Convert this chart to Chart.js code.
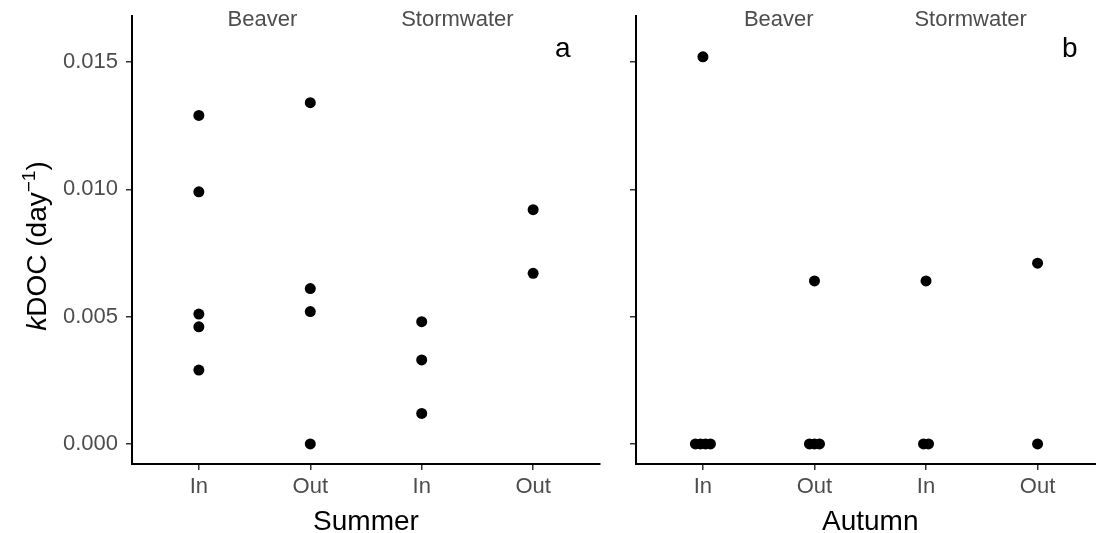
<!DOCTYPE html>
<html>
<head>
<meta charset="utf-8">
<script src="https://cdn.jsdelivr.net/npm/chart.js@4"></script>
<style>
  html, body { margin: 0; padding: 0; background: #ffffff; overflow: hidden; }
  #wrap { position: relative; width: 1096px; height: 533px; overflow: hidden; }
  canvas { position: absolute; top: 0; }
</style>
</head>
<body>
<div id="wrap">
<canvas id="panelA" width="610" height="533" style="left:0px"></canvas>
<canvas id="panelB" width="500" height="533" style="left:610px"></canvas>
</div>
<script>
// ---------------- data ----------------
const categories = ['In', 'Out', 'In', 'Out'];
const groupLabels = ['Beaver', 'Stormwater'];
const seasons = ['Summer', 'Autumn'];
const panelTags = ['a', 'b'];
const yTickValues = [0, 0.005, 0.010, 0.015];

// Summer (panel a)
const summerBeaverIn  = [0.0129, 0.0099, 0.0051, 0.0046, 0.0029];
const summerBeaverOut = [0.0134, 0.0061, 0.0052, 0.0];
const summerStormIn   = [0.0048, 0.0033, 0.0012];
const summerStormOut  = [0.0092, 0.0067];

// Autumn (panel b)
const autumnBeaverIn  = [0.0152, 0, 0, 0, 0];
const autumnBeaverOut = [0.0064, 0, 0, 0];
const autumnStormIn   = [0.0064, 0, 0];
const autumnStormOut  = [0.0071, 0];

// ---------------- helpers ----------------
const FAMILY = "'Liberation Sans', Arial, Helvetica, sans-serif";
const TIE_SPREAD = 0.045; // horizontal spread between tied values (category units)

function buildPoints(groups) {
  const pts = [];
  groups.forEach((vals, i) => {
    const counts = {};
    vals.forEach(v => { counts[v] = (counts[v] || 0) + 1; });
    const seen = {};
    vals.forEach(v => {
      const n = counts[v];
      const k = seen[v] || 0;
      seen[v] = k + 1;
      pts.push({ x: i + 1 + (k - (n - 1) / 2) * TIE_SPREAD, y: v });
    });
  });
  return pts;
}

const textPlugin = {
  id: 'panelText',
  afterDraw(chart, args, o) {
    const ctx = chart.ctx;
    const xs = chart.scales.x, ys = chart.scales.y;
    ctx.save();
    // strip-like group labels
    ctx.fillStyle = '#4D4D4D';
    ctx.font = '22px ' + FAMILY;
    ctx.textAlign = 'center';
    ctx.textBaseline = 'middle';
    o.strips.forEach((s, i) => {
      ctx.fillText(groupLabels[i], xs.getPixelForValue(s), ys.getPixelForValue(o.stripY));
    });
    // panel tag
    ctx.fillStyle = '#000';
    ctx.font = '28px ' + FAMILY;
    ctx.fillText(o.tag, xs.getPixelForValue(o.tagX), ys.getPixelForValue(o.tagY));
    // x title
    ctx.textBaseline = 'alphabetic';
    ctx.fillText(o.title, xs.getPixelForValue(2.5), 530);
    // y title
    if (o.yTitle) {
      ctx.translate(46, 246);
      ctx.rotate(-Math.PI / 2);
      const parts = [
        { t: 'k', f: 'italic 28px ' + FAMILY, dy: 0 },
        { t: 'DOC (day', f: '28px ' + FAMILY, dy: 0 },
        { t: '\u22121', f: '19px ' + FAMILY, dy: -11 },
        { t: ')', f: '28px ' + FAMILY, dy: 0 }
      ];
      let total = 0;
      parts.forEach(p => { ctx.font = p.f; p.w = ctx.measureText(p.t).width; total += p.w; });
      let x = -total / 2;
      ctx.textAlign = 'left';
      parts.forEach(p => { ctx.font = p.f; ctx.fillText(p.t, x, p.dy); x += p.w; });
    }
    ctx.restore();
  }
};

function makePanel(id, groups, cfg) {
  const axisCommon = {
    grid: { drawOnChartArea: false, drawTicks: true, tickLength: 6, color: '#333333', lineWidth: 1.5 },
    border: { display: true, color: '#000000', width: 2 }
  };
  return new Chart(document.getElementById(id), {
    type: 'scatter',
    data: {
      datasets: [{
        data: buildPoints(groups),
        pointRadius: 5.5,
        pointHoverRadius: 5.5,
        backgroundColor: '#000000',
        borderWidth: 0
      }]
    },
    options: {
      responsive: false,
      animation: false,
      devicePixelRatio: 1,
      events: [],
      layout: { padding: { left: 0, top: 16, right: cfg.padRight, bottom: 0 } },
      plugins: {
        legend: { display: false },
        tooltip: { enabled: false },
        panelText: cfg.text
      },
      scales: {
        x: Object.assign({
          type: 'linear',
          min: 0.4,
          max: cfg.xMax,
          afterBuildTicks: s => { s.ticks = [1, 2, 3, 4].map(v => ({ value: v })); },
          afterFit: s => { s.height = 69; s.paddingLeft = 0; s.paddingRight = 0; },
          ticks: {
            callback: v => categories[Math.round(v) - 1],
            color: '#4D4D4D',
            font: { family: FAMILY, size: 22 },
            padding: 4,
            maxRotation: 0,
            autoSkip: false
          }
        }, axisCommon),
        y: Object.assign({
          type: 'linear',
          min: -0.000786,
          max: 0.016803,
          afterBuildTicks: s => { s.ticks = yTickValues.map(v => ({ value: v })); },
          afterFit: s => { s.width = cfg.yWidth; s.paddingTop = 0; s.paddingBottom = 0; },
          ticks: {
            display: cfg.showYLabels,
            callback: v => v.toFixed(3),
            color: '#4D4D4D',
            font: { family: FAMILY, size: 22 },
            padding: 8
          }
        }, axisCommon)
      }
    },
    plugins: [textPlugin]
  });
}

makePanel('panelA', [summerBeaverIn, summerBeaverOut, summerStormIn, summerStormOut], {
  padRight: 10, xMax: 4.6, yWidth: 132, showYLabels: true,
  text: { strips: [1.57, 3.32], stripY: 0.01666, tag: panelTags[0], tagX: 4.265, tagY: 0.0155, title: seasons[0], yTitle: true }
});
makePanel('panelB', [autumnBeaverIn, autumnBeaverOut, autumnStormIn, autumnStormOut], {
  padRight: 0, xMax: 4.6, yWidth: 26, showYLabels: false,
  text: { strips: [1.68, 3.40], stripY: 0.01666, tag: panelTags[1], tagX: 4.289, tagY: 0.0155, title: seasons[1], yTitle: false }
});
</script>
</body>
</html>
